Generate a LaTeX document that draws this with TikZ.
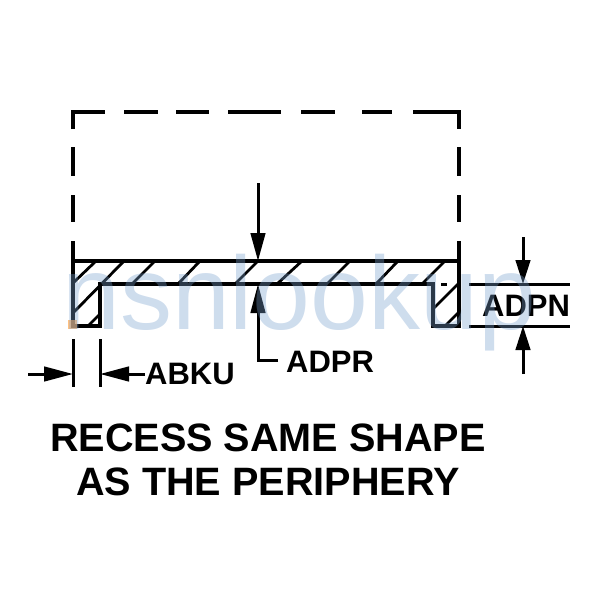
\documentclass[tikz,border=0pt]{standalone}
\usepackage{fontspec}
\setmainfont{Liberation Sans}
\usetikzlibrary{arrows.meta}
\definecolor{wm}{RGB}{120,160,205}
\tikzset{
  x=1pt,y=-1pt,
  ln/.style={line width=3.4pt,line cap=butt,line join=miter},
  thin ln/.style={line width=3pt},
  hatch/.style={line width=2.8pt},
  dim/.style={line width=3pt,-{Triangle[length=24pt,width=14.5pt]}},
  lbl/.style={anchor=base west,inner sep=0pt,font=\fontsize{31}{31}\selectfont\bfseries},
  note/.style={anchor=base,inner sep=0pt,font=\fontsize{39.6}{42}\selectfont\bfseries},
}
\begin{document}
\begin{tikzpicture}
\useasboundingbox (0,0) rectangle (600,600);
% dashed outline
\draw[ln] (73,129) -- (73,112) -- (105,112);
\draw[ln] (124,112) -- (158,112);
\draw[ln] (176,112) -- (209,112);
\draw[ln] (228,112) -- (281,112);
\draw[ln] (301,112) -- (335,112);
\draw[ln] (362,112) -- (392,112);
\draw[ln] (413,112) -- (459,112) -- (459,129);
\draw[ln] (73,147) -- (73,176);
\draw[ln] (73,195) -- (73,222);
\draw[ln] (459,147) -- (459,176);
\draw[ln] (459,195) -- (459,222);
% section
\draw[ln] (73,241) -- (73,326) -- (100,326) -- (100,284) -- (433,284) -- (433,326) -- (459,326) -- (459,241);
\draw[ln] (73,261) -- (459,261);
\draw[thin ln] (441,284) -- (447,284);
% hatching
\foreach \a/\b/\c/\d in {96/261/73/283,124/261/73/313,155/261/132/284,200/261/178/284,258/261/235/284,302/261/277/284,350/261/327/284,398/261/376/284,445/261/422/284,459/283/434/308,459/312/445/326,100/314/88/326}
  \draw[hatch] (\a,\b) -- (\c,\d);
% named anchors
\coordinate (tA) at (258,183);
\coordinate (tB) at (258,261);
\coordinate (uB) at (258,284);
\coordinate (uC) at (258,360);
\coordinate (uD) at (278,360);
\coordinate (aL) at (28,374);
\coordinate (aT) at (73,374);
\coordinate (bT) at (100,374);
\coordinate (bR) at (145,374);
\coordinate (nA) at (523,237);
\coordinate (nB) at (523,284);
\coordinate (nC) at (523,326);
\coordinate (nD) at (523,374);
% dimensions
\draw[dim,-{Triangle[length=28pt,width=14.5pt]}] (tA) -- (tB);
\draw[dim,-{Triangle[length=29pt,width=14.5pt]}] (uD) -- (uC) -- (uB);
\draw[dim,-{Triangle[length=29pt,width=14.5pt]}] (aL) -- (aT);
\draw[dim,-{Triangle[length=29pt,width=14.5pt]}] (bR) -- (bT);
\draw[dim] (nA) -- (nB);
\draw[dim] (nD) -- (nC);
\draw[thin ln] (73,339) -- (73,387);
\draw[thin ln] (100,339) -- (100,387);
\draw[thin ln] (469,284) -- (570,284);
\draw[thin ln] (469,326) -- (570,326);
% labels
\node[lbl] (abku) at (145,384) {ABKU};
\node[lbl] (adpr) at (286,372) {ADPR};
\node[lbl] (adpn) at (482,316) {ADPN};
\node[note] (t1) at (268,451) {RECESS SAME SHAPE};
\node[note] (t2) at (268,495) {AS THE PERIPHERY};
% watermark
\fill[orange!70!white,opacity=.7] (68,320) rectangle (77,329);
\node[anchor=base west,inner sep=0pt,text=wm,opacity=.36,font=\fontsize{104}{104}\selectfont] (wmark) at (62,329) {nsnlookup};
\end{tikzpicture}
\end{document}
